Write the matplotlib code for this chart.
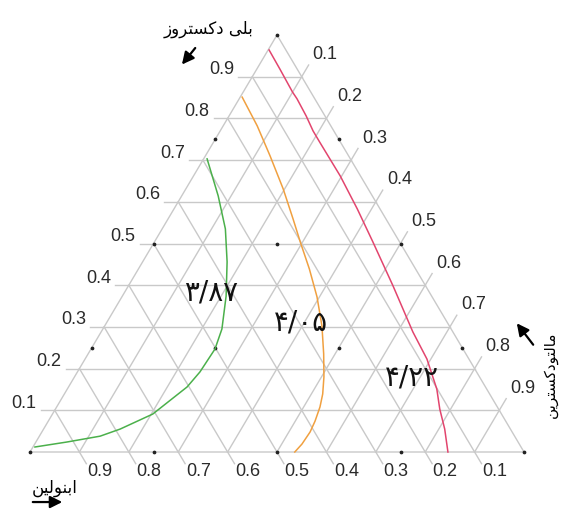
import numpy as np
import matplotlib.pyplot as plt

# ternary data: malto = maltodextrin (right corner), poly = polydextrose (top), inulin = 1 - malto - poly
green_malto = [0.007, 0.074, 0.128, 0.171, 0.210, 0.241, 0.251, 0.248, 0.240, 0.203, 0.155, 0.123, 0.063, 0.004]
green_poly = [0.703, 0.614, 0.535, 0.456, 0.374, 0.295, 0.247, 0.192, 0.156, 0.091, 0.055, 0.038, 0.024, 0.012]

orange_malto = [0.004, 0.069, 0.131, 0.197, 0.253, 0.295, 0.346, 0.395, 0.440, 0.477, 0.505, 0.523, 0.533, 0.540, 0.543, 0.541, 0.536]
orange_poly = [0.851, 0.782, 0.710, 0.631, 0.559, 0.504, 0.439, 0.372, 0.302, 0.235, 0.180, 0.139, 0.108, 0.074, 0.048, 0.019, 0.0]

red_malto = [0.002, 0.047, 0.100, 0.117, 0.156, 0.188, 0.215, 0.297, 0.371, 0.442, 0.536, 0.631, 0.692, 0.748, 0.778, 0.812, 0.846]
red_poly = [0.964, 0.918, 0.863, 0.847, 0.806, 0.770, 0.743, 0.662, 0.583, 0.504, 0.398, 0.288, 0.223, 0.151, 0.103, 0.055, 0.0]

ticks = [0.1, 0.2, 0.3, 0.4, 0.5, 0.6, 0.7, 0.8, 0.9]
quarter = [0.0, 0.25, 0.5, 0.75, 1.0]

# labels of the curves (persian digits) and where they sit (malto, poly)
curve_labels = ['۳/۸۷', '۴/۰۵', '۴/۲۲']
label_malto = [0.174, 0.393, 0.682]
label_poly = [0.384, 0.312, 0.182]

# axis names, written in visual order with arabic presentation forms (no shaping in matplotlib)
name_poly = '\uFEAF\uFEED\uFEAE\uFE98\uFEB4\uFB90\uFEA9 \uFBFD\uFEE0\uFE91'        # بلی دکستروز
name_inulin = '\uFEE6\uFBFF\uFEDF\uFEEE\uFEE8\uFE91\uFE8D'                          # ابنولین
name_malto = '\uFEE6\uFBFE\uFEAE\uFE98\uFEB4\uFB90\uFEA9\uFEEE\uFE98\uFEDF\uFE8E\uFEE3'  # مالتودکسترین


def tern(b, c):
    b = np.asarray(b, dtype=float)
    c = np.asarray(c, dtype=float)
    return b + c / 2, c


grid = '#c9c9c9'
ext = 0.028
px = 1 / 494  # one pixel along x in data units
py = 1 / 417  # one pixel along y

fig = plt.figure(figsize=(5.63, 5.10), dpi=100)
ax = fig.add_axes([0, 0, 1, 1])
ax.set_xlim(-30 * px, 533 * px)
ax.set_ylim(-57 * py, 453 * py)
ax.axis('off')

# grid lines with their tick extensions
for k in ticks:
    x, y = tern([-ext, 1 - k], [k, k])
    ax.plot(x, y, color=grid, lw=1)
    x, y = tern([k, k], [0, 1 - k + ext])
    ax.plot(x, y, color=grid, lw=1)
    x, y = tern([0, 1 - k + ext], [1 - k, -ext])
    ax.plot(x, y, color=grid, lw=1)

x, y = tern([0, 1, 0, 0], [0, 0, 1, 0])
ax.plot(x, y, color=grid, lw=1)

# small dots on the quarter grid
for b in quarter:
    for c in quarter:
        if b + c <= 1.0001:
            x, y = tern(b, c)
            ax.plot(x, y, 'o', color='#222222', ms=1.7)

# curves
x, y = tern(green_malto, green_poly)
ax.plot(x, y, color='#4bb04b', lw=1.1)
x, y = tern(orange_malto, orange_poly)
ax.plot(x, y, color='#f0a040', lw=1.1)
x, y = tern(red_malto, red_poly)
ax.plot(x, y, color='#e2456e', lw=1.1)

num_font = dict(family='Liberation Sans', fontsize=13, color='#2a2a2a')

# tick labels
for k in ticks:
    x, y = tern(0, k)
    ax.text(x - 18 * px, y + 8 * py, f'{k:.1f}', ha='right', va='center', **num_font)
    x, y = tern(1 - k, 0)
    ax.text(x + 20 * px, y - 19 * py, f'{k:.1f}', ha='center', va='center', **num_font)
    x, y = tern(k, 1 - k)
    ax.text(x + 11 * px, y + 23 * py, f'{k:.1f}', ha='left', va='center', **num_font)

for lab, b, c in zip(curve_labels, label_malto, label_poly):
    x, y = tern(b, c)
    ax.text(x, y, lab, ha='center', va='center', fontsize=20, family='DejaVu Sans', color='#111111')

# axis names and arrows
ax.text(0.362, 1.017, name_poly, ha='center', va='center', fontsize=12, family='DejaVu Sans')
ax.text(0.049, -0.084, name_inulin, ha='center', va='center', fontsize=12, family='DejaVu Sans')
ax.text(1.054, 0.187, name_malto, ha='center', va='center', fontsize=11, family='DejaVu Sans', rotation=90)

arrow = dict(arrowstyle='-|>', color='k', lw=1.6, mutation_scale=18)
ax.annotate('', xy=(0.304, 0.924), xytext=(0.338, 0.974), arrowprops=arrow)
ax.annotate('', xy=(0.071, -0.120), xytext=(0.0, -0.120), arrowprops=arrow)
ax.annotate('', xy=(0.982, 0.314), xytext=(1.022, 0.252), arrowprops=arrow)

fig.savefig('out.png', dpi=100)
